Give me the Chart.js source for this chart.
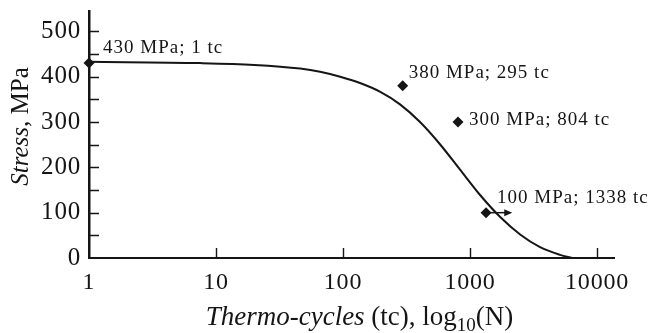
<!DOCTYPE html>
<html>
<head>
<meta charset="utf-8">
<script src="https://cdn.jsdelivr.net/npm/chart.js@4.4.1/dist/chart.umd.min.js"></script>
<style>
  html, body { margin: 0; padding: 0; background: #fff; }
  #wrap { width: 648px; height: 333px; position: relative; }
</style>
</head>
<body>
<div id="wrap"><canvas id="chart"></canvas></div>
<script>
// Fitted stress curve
const curveCycles = [1, 7.5, 20, 46, 66, 95, 136, 195, 281, 404, 580, 834, 1200, 1720, 2480, 3560, 5110, 6350];
const curveStress = [433, 430, 426, 418, 411, 400, 386, 367, 339, 300, 251, 195, 139, 91, 52, 24, 7, 0];

// Test specimens
const testCycles = [1, 295, 804, 1338];
const testStress = [430, 380, 300, 100];
const testLabels = ['430 MPa; 1 tc', '380 MPa; 295 tc', '300 MPa; 804 tc', '100 MPa; 1338 tc'];
const runoutTo = 2150; // arrow end for the 1338 tc specimen

// Axes
const xTicks = [1, 10, 100, 1000, 10000];
const xTickLabels = ['1', '10', '100', '1000', '10000'];
const xTickMarks = [10, 100, 1000, 10000];
const yTicks = [0, 100, 200, 300, 400, 500];
const yTickMarks = [50, 100, 150, 200, 250, 300, 350, 400, 450, 500];

const INK = '#151515';
const SERIF = '"Liberation Serif", "Times New Roman", serif';

// label offsets from each specimen point (dx, baseline dy)
const labelOffsets = [[14, -10], [6, -8], [11, 3], [11, -10]];

const decor = {
  id: 'decor',
  beforeDraw(chart) {
    chart.ctx.letterSpacing = '0.8px';
  },
  afterDraw(chart) {
    const ctx = chart.ctx;
    const xs = chart.scales.x, ys = chart.scales.y;
    const area = chart.chartArea;
    ctx.save();
    ctx.letterSpacing = '0px';
    ctx.strokeStyle = INK;
    ctx.fillStyle = INK;

    // inward tick marks
    ctx.lineWidth = 1.4;
    ctx.beginPath();
    yTickMarks.forEach(v => {
      const py = Math.round(ys.getPixelForValue(v)) + 0.5;
      ctx.moveTo(area.left, py); ctx.lineTo(area.left + 10, py);
    });
    xTickMarks.forEach(v => {
      const px = Math.round(xs.getPixelForValue(v)) + 0.5;
      ctx.moveTo(px, area.bottom); ctx.lineTo(px, area.bottom - 10);
    });
    ctx.stroke();

    // run-out arrow
    const ax0 = xs.getPixelForValue(testCycles[3]);
    const ax1 = xs.getPixelForValue(runoutTo);
    const ay = ys.getPixelForValue(testStress[3]);
    ctx.lineWidth = 1.5;
    ctx.beginPath();
    ctx.moveTo(ax0, ay); ctx.lineTo(ax1 - 5, ay);
    ctx.stroke();
    ctx.beginPath();
    ctx.moveTo(ax1, ay); ctx.lineTo(ax1 - 8, ay - 3.5); ctx.lineTo(ax1 - 8, ay + 3.5);
    ctx.closePath(); ctx.fill();

    // point labels
    ctx.font = '19px ' + SERIF;
    ctx.letterSpacing = '1px';
    ctx.textAlign = 'left';
    ctx.textBaseline = 'alphabetic';
    testLabels.forEach((t, i) => {
      const px = xs.getPixelForValue(testCycles[i]);
      const py = ys.getPixelForValue(testStress[i]);
      ctx.fillText(t, px + labelOffsets[i][0], py + labelOffsets[i][1]);
    });
    ctx.letterSpacing = '0px';

    // x title: Thermo-cycles (tc), log10(N)
    const parts = [
      { t: 'Thermo-cycles', f: 'italic 27px ' + SERIF, dy: 0 },
      { t: ' (tc), log', f: '27px ' + SERIF, dy: 0 },
      { t: '10', f: '19px ' + SERIF, dy: 6 },
      { t: '(N)', f: '27px ' + SERIF, dy: 0 }
    ];
    let total = 0;
    parts.forEach(p => { ctx.font = p.f; p.w = ctx.measureText(p.t).width; total += p.w; });
    let cx = (xs.left + xs.right) / 2 + 8 - total / 2;
    const base = xs.bottom - 8;
    parts.forEach(p => { ctx.font = p.f; ctx.fillText(p.t, cx, base + p.dy); cx += p.w; });

    // y title: Stress, MPa (rotated)
    const yparts = [
      { t: 'Stress', f: 'italic 25px ' + SERIF },
      { t: ', MPa', f: '25px ' + SERIF }
    ];
    let ytot = 0;
    yparts.forEach(p => { ctx.font = p.f; p.w = ctx.measureText(p.t).width; ytot += p.w; });
    ctx.translate(28, (area.top + area.bottom) / 2 - 8);
    ctx.rotate(-Math.PI / 2);
    let yx = -ytot / 2;
    yparts.forEach(p => { ctx.font = p.f; ctx.fillText(p.t, yx, 0); yx += p.w; });
    ctx.restore();
  }
};

new Chart(document.getElementById('chart'), {
  type: 'scatter',
  data: {
    datasets: [
      {
        type: 'line',
        data: curveCycles.map((x, i) => ({ x, y: curveStress[i] })),
        borderColor: INK,
        borderWidth: 2,
        pointRadius: 0,
        cubicInterpolationMode: 'monotone',
        fill: false
      },
      {
        type: 'scatter',
        data: testCycles.map((x, i) => ({ x, y: testStress[i] })),
        pointStyle: 'rectRot',
        pointRadius: 5.5,
        backgroundColor: INK,
        borderColor: INK,
        borderWidth: 0,
        clip: false
      }
    ]
  },
  options: {
    responsive: true,
    maintainAspectRatio: false,
    animation: false,
    layout: { padding: { top: 11, right: 34, left: 0, bottom: 0 } },
    plugins: { legend: { display: false }, tooltip: { enabled: false } },
    scales: {
      x: {
        type: 'logarithmic',
        min: 1,
        max: 13600,
        afterBuildTicks: s => { s.ticks = xTicks.map(v => ({ value: v })); },
        afterFit: s => { s.height = 75; s.paddingLeft = 0; s.paddingRight = 0; },
        grid: { display: false, drawTicks: false },
        border: { display: true, color: INK, width: 2 },
        ticks: {
          autoSkip: false, maxRotation: 0, padding: 10, color: INK,
          font: { family: SERIF, size: 24 },
          callback: v => xTickLabels[xTicks.indexOf(v)]
        }
      },
      y: {
        min: 0,
        max: 545,
        afterBuildTicks: s => { s.ticks = yTicks.map(v => ({ value: v })); },
        afterFit: s => { s.width = 89; s.paddingTop = 0; s.paddingBottom = 0; },
        grid: { display: false, drawTicks: false },
        border: { display: true, color: INK, width: 2.5 },
        ticks: {
          padding: 8, color: INK,
          font: { family: SERIF, size: 25 }
        }
      }
    }
  },
  plugins: [decor]
});
</script>
</body>
</html>
